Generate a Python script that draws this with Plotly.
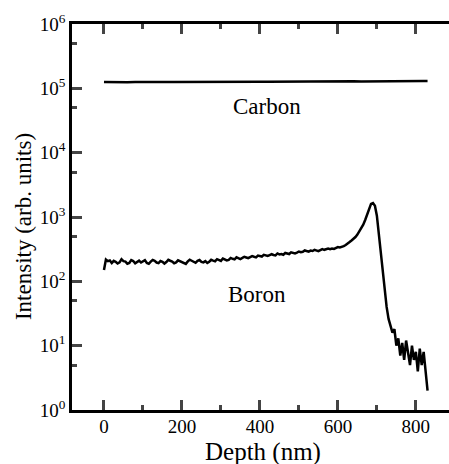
import plotly.graph_objects as go

depth_boron = [0, 5, 10, 15, 20, 25, 30, 35, 40, 45, 50, 55, 60, 65, 70, 75, 80, 85, 90, 95,
               100, 105, 110, 115, 120, 125, 130, 135, 140, 145, 150, 155, 160, 165, 170, 175, 180, 185, 190, 195,
               200, 205, 210, 215, 220, 225, 230, 235, 240, 245, 250, 255, 260, 265, 270, 275, 280, 285, 290, 295,
               300, 305, 310, 315, 320, 325, 330, 335, 340, 345, 350, 355, 360, 365, 370, 375, 380, 385, 390, 395,
               400, 405, 410, 415, 420, 425, 430, 435, 440, 445, 450, 455, 460, 465, 470, 475, 480, 485, 490, 495,
               500, 505, 510, 515, 520, 525, 530, 535, 540, 545, 550, 555, 560, 565, 570, 575, 580, 585, 590, 595,
               600, 605, 610, 615, 620, 625, 630, 635, 640, 645, 650, 655, 660, 665, 670, 675, 680, 685, 690, 695,
               700, 705, 710, 715, 720, 725, 730, 735, 740, 745, 750, 755, 760, 765, 770, 775, 780, 785, 790, 795,
               800, 805, 810, 815, 820, 825, 830]
boron = [150, 218, 206, 211, 192, 208, 201, 189, 197, 220, 206, 203, 188, 193, 214, 207, 191, 199, 210, 196,
         205, 214, 193, 187, 202, 215, 208, 196, 192, 207, 201, 189, 200, 216, 209, 203, 191, 197, 212, 205,
         199, 193, 187, 204, 217, 209, 203, 194, 208, 214, 200, 197, 206, 193, 202, 216, 210, 205, 221, 212,
         208, 226, 218, 211, 216, 231, 224, 219, 236, 228, 222, 231, 241, 235, 229, 238, 247, 241, 236, 252,
         246, 243, 258, 252, 248, 256, 264, 257, 253, 271, 262, 266, 259, 276, 270, 266, 283, 277, 272, 280,
         291, 284, 288, 302, 293, 289, 301, 296, 308, 303, 295, 306, 317, 309, 312, 322, 315, 324, 319, 333,
         340, 336, 342, 352, 366, 381, 408, 432, 452, 488, 532, 592, 652, 760, 900, 1120, 1380, 1600, 1650, 1500,
         1050, 550, 270, 140, 75, 40, 26, 20, 16, 18, 10, 13, 7, 11, 6, 12, 8, 5, 10, 6,
         8, 4, 9, 5, 8, 4, 2]

depth_carbon = [0, 20, 40, 60, 80, 100, 120, 140, 160, 180, 200, 220, 240, 260, 280, 300, 320, 340, 360, 380,
                400, 420, 440, 460, 480, 500, 520, 540, 560, 580, 600, 620, 640, 660, 680, 700, 720, 740, 760, 780,
                800, 820, 830]
carbon = [125000, 124000, 125500, 124500, 125000, 126000, 124800, 125200, 125600, 124900, 125300, 126000,
          125100, 125700, 126200, 125400, 126000, 126500, 125800, 126300, 126800, 126100, 126600, 127000,
          126500, 127200, 127600, 126900, 127500, 128000, 127400, 128100, 128500, 127900, 128600, 129000,
          128400, 129100, 129500, 128900, 129600, 130000, 130200]

y_tickvals = [1, 10, 100, 1000, 10000, 100000, 1000000]
y_ticktext = ["10<sup>0</sup>", "10<sup>1</sup>", "10<sup>2</sup>", "10<sup>3</sup>",
              "10<sup>4</sup>", "10<sup>5</sup>", "10<sup>6</sup>"]
y_minor = [5, 50, 500, 5000, 50000, 500000]
x_tickvals = [0, 200, 400, 600, 800]
x_minor = [100, 300, 500, 700]

FONT = "'Liberation Serif', 'Times New Roman', 'DejaVu Serif', serif"

fig = go.Figure()
fig.add_trace(go.Scatter(x=depth_carbon, y=carbon, mode="lines",
                         line=dict(color="black", width=2.5), showlegend=False))
fig.add_trace(go.Scatter(x=depth_boron, y=boron, mode="lines",
                         line=dict(color="black", width=2.5), showlegend=False))

fig.add_annotation(x=419, y=4.71, text="Carbon", showarrow=False,
                   font=dict(family=FONT, size=23, color="black"))
fig.add_annotation(x=393, y=1.79, text="Boron", showarrow=False,
                   font=dict(family=FONT, size=23, color="black"))

# axis titles placed as annotations
fig.add_annotation(xref="paper", yref="paper", x=0, y=0.474, xanchor="center", yanchor="middle",
                   xshift=-49, textangle=-90, text="Intensity (arb. units)", showarrow=False,
                   font=dict(family=FONT, size=23, color="black"))
fig.add_annotation(xref="paper", yref="paper", x=0.5, y=0, xanchor="center", yanchor="middle",
                   yshift=-42, xshift=2, text="Depth (nm)", showarrow=False,
                   font=dict(family=FONT, size=25, color="black"))

fig.update_layout(
    width=449, height=464,
    margin=dict(l=72, r=0, t=24, b=54),
    paper_bgcolor="white", plot_bgcolor="white",
    font=dict(family=FONT, size=19, color="black"),
    xaxis=dict(range=[-82, 885], tickvals=x_tickvals, ticks="inside", ticklen=10, tickwidth=2.5,
               showline=True, linewidth=2.5, linecolor="black", mirror="ticks",
               showgrid=False, zeroline=False, automargin=False, ticklabelstandoff=-3,
               minor=dict(tickvals=x_minor, ticks="inside", ticklen=5, tickwidth=2.5, showgrid=False),
               tickfont=dict(family=FONT, size=19)),
    yaxis=dict(type="log", range=[0, 6], tickvals=y_tickvals, ticktext=y_ticktext,
               ticks="inside", ticklen=10, tickwidth=2.5,
               showline=True, linewidth=2.5, linecolor="black",
               showgrid=False, zeroline=False, automargin=False,
               minor=dict(tickvals=y_minor, ticks="inside", ticklen=5, tickwidth=2.5, showgrid=False),
               tickfont=dict(family=FONT, size=19)),
)

fig.write_html("out.html", config={"displayModeBar": False},
               post_script="document.body.style.margin='0';document.body.style.overflow='hidden';")
